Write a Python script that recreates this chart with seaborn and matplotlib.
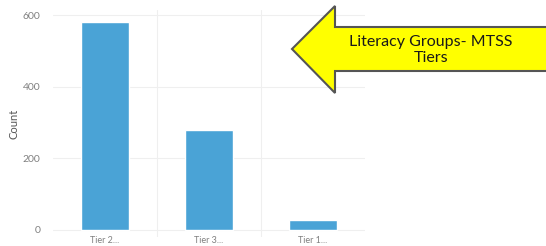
import matplotlib
matplotlib.use("Agg")
import matplotlib.pyplot as plt
import seaborn as sns
import pandas as pd
from matplotlib.patches import Polygon

# datos
categorias = ["Tier 2...", "Tier 3...", "Tier 1..."]
conteos = [580, 280, 28]
titulo_flecha = "Literacy Groups- MTSS\nTiers"

df = pd.DataFrame({"Tier": categorias, "Count": conteos})

sns.set_style("white")
plt.rcParams['font.family'] = ['Lato', 'DejaVu Sans']

W, H = 546, 246
fig = plt.figure(figsize=(W / 100, H / 100), dpi=100)
ax = fig.add_axes([53 / W, 1 - 237 / H, (365 - 53) / W, (237 - 10) / H])

sns.barplot(data=df, x="Tier", y="Count", color="#4AA3D6", width=0.47,
            saturation=1, ax=ax)

ax.set_ylim(-20, 614)
ax.set_xlim(-0.5, 2.5)
ax.set_yticks([0, 200, 400, 600])
ax.set_xticks([0.5, 1.5], minor=True)
ax.grid(axis="y", color="#efefef", linewidth=0.8)
ax.grid(axis="x", which="minor", color="#efefef", linewidth=0.8)
ax.grid(axis="x", which="major", visible=False)
ax.set_axisbelow(True)
for s in ax.spines.values():
    s.set_visible(False)
ax.tick_params(axis="y", labelsize=7.5, colors="#808080", length=0, pad=9)
ax.tick_params(axis="x", labelsize=6.5, colors="#808080", length=0, pad=-1)
ax.tick_params(axis="x", which="minor", length=0)
ax.set_xlabel("")
ax.set_ylabel("Count", fontsize=8, color="#555555", labelpad=2)

# flecha amarilla
pts = [(292, 49), (335, 6), (335, 27), (560, 27), (560, 71), (335, 71), (335, 93)]
pts = [(x / W, 1 - y / H) for x, y in pts]
flecha = Polygon(pts, closed=True, transform=fig.transFigure, facecolor="#FFFF00",
                 edgecolor="#555555", linewidth=1.5, clip_on=False)
fig.patches.append(flecha)
fig.text(431 / W, 1 - 50 / H, titulo_flecha, ha="center", va="center",
         fontsize=11.5, color="#1a1a1a", linespacing=1.25)

fig.savefig("out.png", dpi=100)
